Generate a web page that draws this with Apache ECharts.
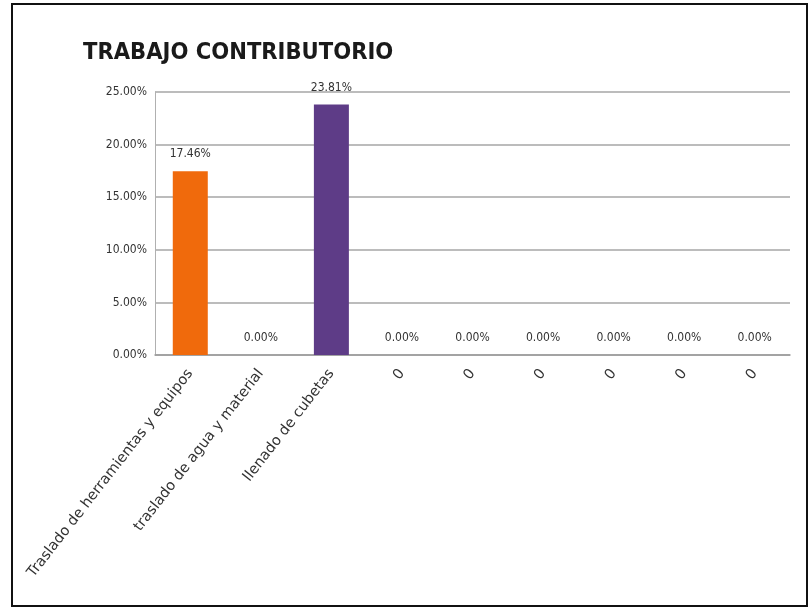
<!DOCTYPE html>
<html>
<head>
<meta charset="utf-8">
<script src="https://cdn.jsdelivr.net/npm/echarts@6/dist/echarts.min.js"></script>
<style>
  html, body { margin: 0; padding: 0; background: #fff; }
  #chart { width: 811px; height: 610px; }
</style>
</head>
<body>
<div id="chart"></div>
<script>
// Task categories and their share of contributory work (%)
const categories = [
  'Traslado de herramientas y equipos',
  'traslado de agua y material',
  'llenado de cubetas',
  '0', '0', '0', '0', '0', '0'
];
const shares = [17.46, 0, 23.81, 0, 0, 0, 0, 0, 0];
const barColors = ['#F06A0C', '#F06A0C', '#5E3C87', '#5E3C87', '#5E3C87', '#5E3C87', '#5E3C87', '#5E3C87', '#5E3C87'];
const yTicks = [0, 5, 10, 15, 20, 25];

const chart = echarts.init(document.getElementById('chart'));
const narrow = "'Liberation Sans Narrow', 'DejaVu Sans Condensed', sans-serif";
const wide = "'DejaVu Sans', sans-serif";

chart.setOption({
  animation: false,
  backgroundColor: '#ffffff',
  title: {
    text: 'TRABAJO CONTRIBUTORIO',
    left: 78,
    top: 36,
    textStyle: { fontFamily: narrow, fontWeight: 'bold', fontSize: 23.5, color: '#1a1a1a' }
  },
  graphic: [{
    type: 'rect',
    shape: { x: 12, y: 4, width: 795, height: 602 },
    style: { fill: 'none', stroke: '#111', lineWidth: 2 },
    silent: true
  }],
  grid: { left: 155, right: 21, top: 92, bottom: 255 },
  xAxis: {
    type: 'category',
    data: categories,
    axisLine: { lineStyle: { color: '#9a9a9a', width: 1.5 } },
    axisTick: { show: false },
    axisLabel: {
      interval: 0,
      rotate: 52,
      margin: 16,
      fontFamily: wide,
      fontSize: 14.5,
      color: '#333'
    }
  },
  yAxis: {
    type: 'value',
    min: yTicks[0],
    max: yTicks[yTicks.length - 1],
    interval: 5,
    axisLine: { show: true, lineStyle: { color: '#b0b0b0' } },
    axisTick: { show: false },
    splitLine: { lineStyle: { color: '#a6a6a6', width: 1.5 } },
    axisLabel: {
      margin: 8,
      fontFamily: narrow,
      fontSize: 12,
      color: '#333',
      formatter: v => v.toFixed(2) + '%'
    }
  },
  series: [{
    type: 'bar',
    data: shares.map((v, i) => ({ value: v, itemStyle: { color: barColors[i] } })),
    barWidth: 35,
    label: {
      show: true,
      position: 'top',
      distance: 11,
      fontFamily: narrow,
      fontSize: 12,
      color: '#333',
      formatter: p => p.value.toFixed(2) + '%'
    }
  }]
});
</script>
</body>
</html>
